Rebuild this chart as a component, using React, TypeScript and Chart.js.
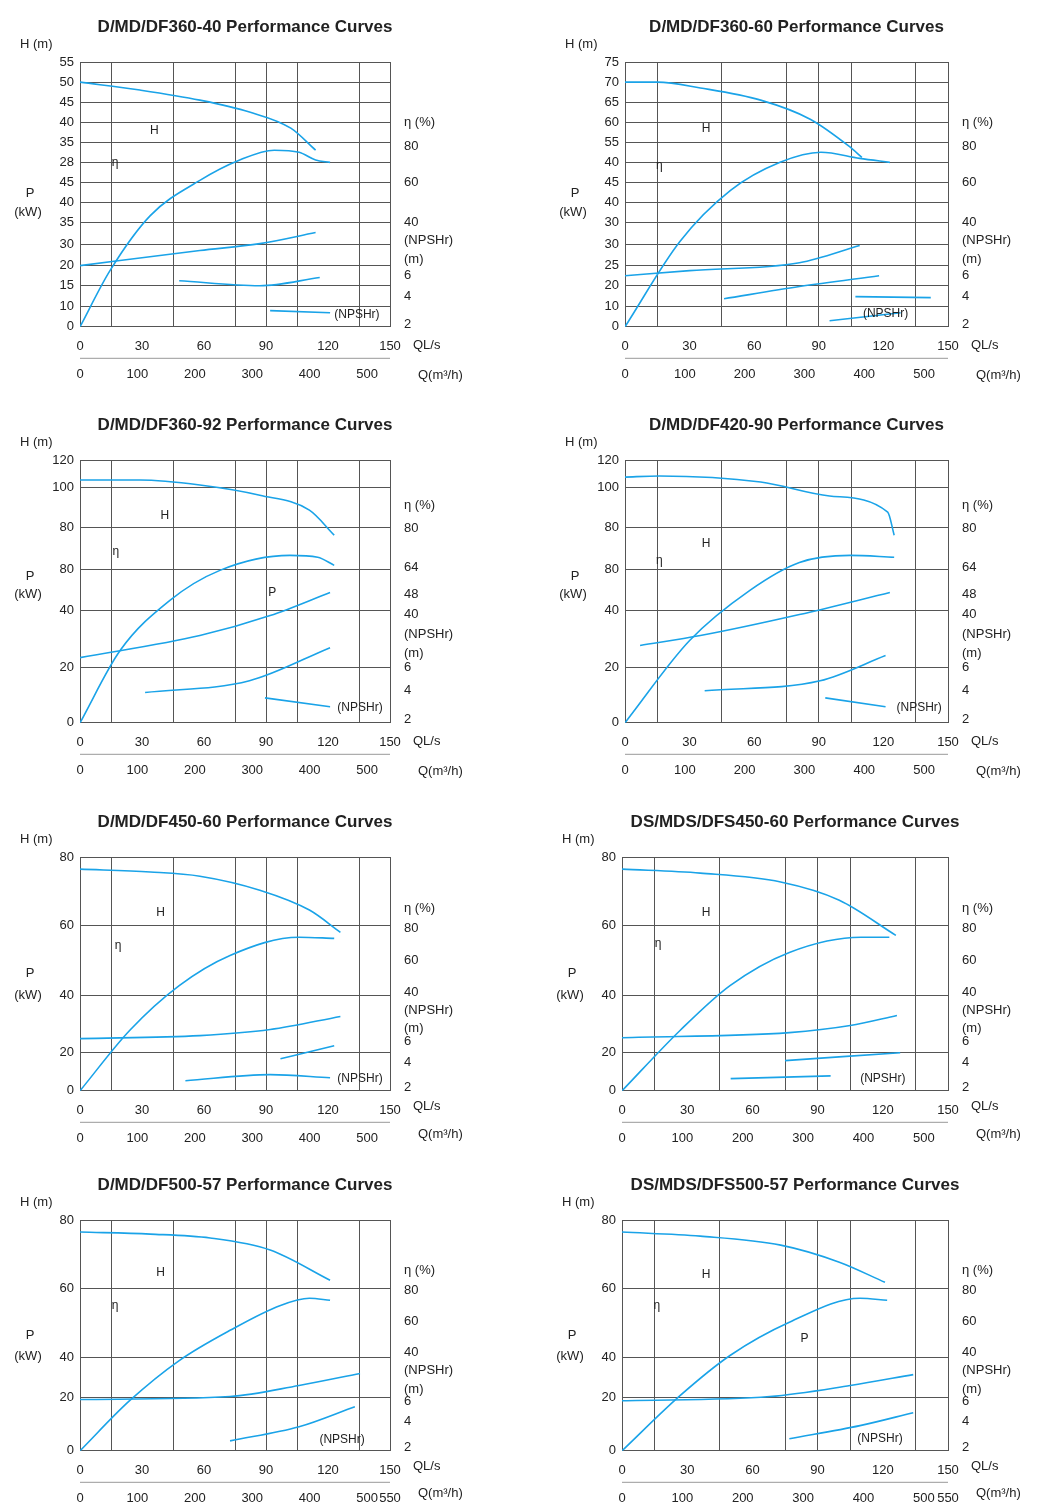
import React, { useEffect, useRef } from "react";
import { Chart, registerables } from "chart.js";
Chart.register(...registerables);

type Pt = [number, number];
type Lbl = [number, number, string];
const FONT = "'Liberation Sans', Arial, sans-serif";
const BLUE = "#1aa3e8";

const titles = [
  "D/MD/DF360-40 Performance Curves", "D/MD/DF360-60 Performance Curves",
  "D/MD/DF360-92 Performance Curves", "D/MD/DF420-90 Performance Curves",
  "D/MD/DF450-60 Performance Curves", "DS/MDS/DFS450-60 Performance Curves",
  "D/MD/DF500-57 Performance Curves", "DS/MDS/DFS500-57 Performance Curves",
];

// left axis ticks (value in grid units 0-100) and their labels
const row1LeftV = [100, 92.4, 84.8, 77.3, 69.7, 62.1, 54.5, 47, 39.4, 31.1, 23.1, 15.5, 7.6, 0];
const p1LeftL = ["55", "50", "45", "40", "35", "28", "45", "40", "35", "30", "20", "15", "10", "0"];
const p2LeftL = ["75", "70", "65", "60", "55", "40", "45", "40", "30", "30", "25", "20", "10", "0"];
const row2LeftV = [100, 89.7, 74.4, 58.4, 42.7, 21, 0];
const row2LeftL = ["120", "100", "80", "80", "40", "20", "0"];
const row3LeftV = [100, 70.8, 40.8, 16.3, 0];
const row4LeftV = [100, 70.4, 40.4, 23, 0];
const row34LeftL = ["80", "60", "40", "20", "0"];

const row1RightV = [77.3, 68.2, 54.5, 39.4, 32.6, 25.4, 19.3, 11.4, 0.8];
const row1RightL = ["η (%)", "80", "60", "40", "(NPSHr)", "(m)", "6", "4", "2"];
const row2RightV = [82.8, 74, 59.2, 48.9, 41.2, 33.6, 26.3, 21, 12.2, 1.1];
const row2RightL = ["η (%)", "80", "64", "48", "40", "(NPSHr)", "(m)", "6", "4", "2"];
const row3RightV = [78.1, 69.5, 55.8, 42.1, 34.3, 26.6, 21, 12, 1.3];
const row4RightV = [78.3, 69.6, 56.1, 42.6, 34.8, 26.5, 21.3, 12.6, 1.3];
const row34RightL = ["η (%)", "80", "60", "40", "(NPSHr)", "(m)", "6", "4", "2"];

const qlTicks = [0, 30, 60, 90, 120, 150];
const m3Ticks = [0, 100, 200, 300, 400, 500];
const m3TicksLast = [0, 100, 200, 300, 400, 500, 540];
const m3LabelsLast = ["0", "100", "200", "300", "400", "500", "550"];
const gridX = [0, 15, 45, 75, 90, 105, 135, 150];

// curves: x in L/s, y in grid units
const p1H: Pt[] = [[0, 92.4], [29, 89.4], [58, 85.6], [82, 81.1], [102, 75], [114, 66.7]];
const p1Eff: Pt[] = [[0, 0], [14.5, 21.2], [34, 42], [58, 55.3], [77, 62.9], [94, 66.7], [106, 65.9], [114, 63], [121, 62.1]];
const p1P: Pt[] = [[0, 23.1], [58, 28.8], [87, 31.4], [114, 35.6]];
const p1N: Pt[] = [[48, 17.4], [87, 15.5], [116, 18.6]];
const p1N2: Pt[] = [[92, 6.1], [121, 5.3]];

const p2H: Pt[] = [[0, 92.4], [15, 92.4], [35, 90.2], [63, 85.6], [86, 78.4], [104, 68.2], [110, 64]];
const p2Eff: Pt[] = [[0, 0], [25.5, 32.2], [49, 51.5], [72, 62.1], [91, 65.9], [109, 63.6], [123, 62.1]];
const p2P: Pt[] = [[0, 19.3], [30, 21.2], [81, 24.2], [109, 30.7]];
const p2N: Pt[] = [[46, 10.6], [81, 15.2], [118, 19.3]];
const p2N2: Pt[] = [[107, 11.4], [142, 11]];
const p2N3: Pt[] = [[95, 2.3], [128, 5.3]];

const p3H: Pt[] = [[0, 92.4], [29, 92.4], [58, 90.5], [87, 86.6], [111, 80.9], [123, 71.4]];
const p3Eff: Pt[] = [[0, 0], [19.4, 27.5], [43.5, 46.6], [67.7, 58], [101.6, 63.7], [115, 63], [123, 59.9]];
const p3P: Pt[] = [[0, 24.8], [58, 33.2], [92, 40.8], [121, 49.6]];
const p3N: Pt[] = [[31.5, 11.5], [82, 16], [121, 28.6]];
const p3N2: Pt[] = [[89.5, 9.5], [121, 6.1]];

const p4H: Pt[] = [[0, 93.5], [16, 93.9], [63, 91.6], [95, 86.3], [122, 80.2], [125, 71.4]];
const p4Eff: Pt[] = [[0, 0], [30, 31.3], [58, 50.4], [81, 61], [104.5, 63.7], [125, 63]];
const p4P: Pt[] = [[7, 29.4], [35, 33.2], [81, 41.2], [123, 49.6]];
const p4N: Pt[] = [[37, 12.2], [90.6, 16], [121, 25.6]];
const p4N2: Pt[] = [[93, 9.5], [121, 6.1]];

const p5H: Pt[] = [[0, 94.8], [34, 93.6], [58, 91.8], [87, 85.8], [111, 77.3], [126, 67.8]];
const p5Eff: Pt[] = [[0, 0], [24, 25.8], [48, 45], [72.6, 57.9], [106, 65.7], [123, 65.2]];
const p5P: Pt[] = [[0, 22.3], [58, 23.6], [92, 26.2], [126, 31.8]];
const p5N: Pt[] = [[97, 13.7], [123, 19.3]];
const p5N2: Pt[] = [[51, 4.3], [92, 6.9], [121, 5.6]];

const p6H: Pt[] = [[0, 94.8], [36, 93.1], [73, 89.3], [100, 81.5], [126, 66.5]];
const p6Eff: Pt[] = [[0, 0], [26.7, 25.8], [49.7, 45], [77, 59.2], [110, 65.7], [123, 65.7]];
const p6P: Pt[] = [[0, 22.7], [77, 24.9], [105, 27.9], [126.5, 32.2]];
const p6N: Pt[] = [[75, 12.9], [128, 16.3]];
const p6N2: Pt[] = [[50, 5.2], [96, 6.4]];

const p7H: Pt[] = [[0, 94.8], [34, 93.9], [63, 92.2], [92, 87], [121, 73.9]];
const p7Eff: Pt[] = [[0, 0], [24, 21.7], [48, 39.1], [72.6, 52.2], [97, 63], [111, 66.1], [121, 65.2]];
const p7P: Pt[] = [[0, 22.2], [72.6, 23.5], [106, 28.3], [135.5, 33.5]];
const p7N: Pt[] = [[72.6, 4.3], [106, 10.4], [133, 19.1]];

const p8H: Pt[] = [[0, 94.8], [36, 93], [73, 89.1], [100, 81.7], [121, 73]];
const p8Eff: Pt[] = [[0, 0], [26.7, 23.9], [49.7, 41.3], [77, 55.7], [109.5, 66.1], [122, 65.2]];
const p8P: Pt[] = [[0, 21.7], [68, 23.5], [105, 28.3], [134, 33]];
const p8N: Pt[] = [[77, 5.2], [109.5, 10.9], [134, 16.5]];

const p1Txt: Lbl[] = [[36, 73.9, "H"], [17, 62, "η"], [134, 4.5, "(NPSHr)"]];
const p2Txt: Lbl[] = [[37.6, 75, "H"], [16, 61, "η"], [121, 5, "(NPSHr)"]];
const p3Txt: Lbl[] = [[41, 79, "H"], [17.4, 65, "η"], [93, 49.6, "P"], [135.5, 5.7, "(NPSHr)"]];
const p4Txt: Lbl[] = [[37.6, 68.3, "H"], [16, 61.8, "η"], [136.6, 5.7, "(NPSHr)"]];
const p5Txt: Lbl[] = [[39, 76, "H"], [18.4, 62, "η"], [135.5, 5.2, "(NPSHr)"]];
const p6Txt: Lbl[] = [[38.7, 76, "H"], [16.6, 63, "η"], [120, 5.2, "(NPSHr)"]];
const p7Txt: Lbl[] = [[39, 77, "H"], [17, 63, "η"], [126.8, 4.8, "(NPSHr)"]];
const p8Txt: Lbl[] = [[38.7, 76.5, "H"], [16, 63, "η"], [84, 48.7, "P"], [118.7, 5.2, "(NPSHr)"]];

const pLabelV = [[50.4, 43.2], [50.4, 43.2], [55.7, 48.9], [55.7, 48.9], [50.2, 40.8], [50.2, 40.8], [50, 40.9], [50, 40.9]];

const rowH = [398, 397, 363, 351];
const plotTop = [62, 62, 62, 62];
const plotBottom = [326, 324, 295, 292];
const axisOff = [[19, 49], [19, 49], [16, 44], [16, 43]];

interface Panel {
  title: string; leftV: number[]; leftL: string[]; rightV: number[]; rightL: string[];
  curves: Pt[][]; txt: Lbl[]; pv: number[]; row: number; col: number;
}

const panels: Panel[] = [
  { title: titles[0], leftV: row1LeftV, leftL: p1LeftL, rightV: row1RightV, rightL: row1RightL, curves: [p1H, p1Eff, p1P, p1N, p1N2], txt: p1Txt, pv: pLabelV[0], row: 0, col: 0 },
  { title: titles[1], leftV: row1LeftV, leftL: p2LeftL, rightV: row1RightV, rightL: row1RightL, curves: [p2H, p2Eff, p2P, p2N, p2N2, p2N3], txt: p2Txt, pv: pLabelV[1], row: 0, col: 1 },
  { title: titles[2], leftV: row2LeftV, leftL: row2LeftL, rightV: row2RightV, rightL: row2RightL, curves: [p3H, p3Eff, p3P, p3N, p3N2], txt: p3Txt, pv: pLabelV[2], row: 1, col: 0 },
  { title: titles[3], leftV: row2LeftV, leftL: row2LeftL, rightV: row2RightV, rightL: row2RightL, curves: [p4H, p4Eff, p4P, p4N, p4N2], txt: p4Txt, pv: pLabelV[3], row: 1, col: 1 },
  { title: titles[4], leftV: row3LeftV, leftL: row34LeftL, rightV: row3RightV, rightL: row34RightL, curves: [p5H, p5Eff, p5P, p5N, p5N2], txt: p5Txt, pv: pLabelV[4], row: 2, col: 0 },
  { title: titles[5], leftV: row3LeftV, leftL: row34LeftL, rightV: row3RightV, rightL: row34RightL, curves: [p6H, p6Eff, p6P, p6N, p6N2], txt: p6Txt, pv: pLabelV[5], row: 2, col: 1 },
  { title: titles[6], leftV: row4LeftV, leftL: row34LeftL, rightV: row4RightV, rightL: row34RightL, curves: [p7H, p7Eff, p7P, p7N], txt: p7Txt, pv: pLabelV[6], row: 3, col: 0 },
  { title: titles[7], leftV: row4LeftV, leftL: row34LeftL, rightV: row4RightV, rightL: row34RightL, curves: [p8H, p8Eff, p8P, p8N], txt: p8Txt, pv: pLabelV[7], row: 3, col: 1 },
];

function PanelChart({ p }: { p: Panel }) {
  const ref = useRef<HTMLCanvasElement>(null);
  useEffect(() => {
    const H = rowH[p.row];
    const last = p.row === 3;
    const m3v = last ? m3TicksLast : m3Ticks;
    const padLeft = p.col === 0 ? 53 : (p.row < 2 ? 77 : 74);
    const padRight = p.col === 0 ? 131 : 94;
    const extras = {
      id: "extras",
      afterDraw(chart: any) {
        const ctx = chart.ctx; const a = chart.chartArea;
        const ys = chart.scales.y; const xs = chart.scales.x;
        ctx.save();
        ctx.strokeStyle = "#999"; ctx.lineWidth = 1;
        ctx.beginPath(); ctx.moveTo(a.left, a.bottom + 31.5); ctx.lineTo(a.right, a.bottom + 31.5); ctx.stroke();
        ctx.fillStyle = "#222";
        ctx.font = `bold 17px ${FONT}`; ctx.textAlign = "center"; ctx.textBaseline = "middle";
        ctx.fillText(p.title, (a.left + a.right) / 2 + 10, 27);
        ctx.font = `13px ${FONT}`;
        ctx.textAlign = "left";
        p.rightV.forEach((v, i) => ctx.fillText(p.rightL[i], a.right + 14, ys.getPixelForValue(v)));
        ctx.fillText("H (m)", a.left - 60, a.top - 18);
        ctx.textAlign = "center";
        ctx.fillText("P", a.left - 50, ys.getPixelForValue(p.pv[0]));
        ctx.fillText("(kW)", a.left - 52, ys.getPixelForValue(p.pv[1]));
        ctx.textAlign = "left";
        ctx.fillText("QL/s", a.right + 23, a.bottom + axisOff[p.row][0]);
        ctx.fillText("Q(m³/h)", a.right + 28, a.bottom + axisOff[p.row][1]);
        ctx.font = `12px ${FONT}`; ctx.textAlign = "center";
        p.txt.forEach(([x, y, t]) => ctx.fillText(t, xs.getPixelForValue(x), ys.getPixelForValue(y)));
        ctx.restore();
      },
    };
    const chart = new Chart(ref.current!, {
      type: "line",
      data: {
        datasets: p.curves.map((c) => ({
          data: c.map(([x, y]) => ({ x, y })),
          borderColor: BLUE, borderWidth: 1.6, pointRadius: 0, fill: false,
          cubicInterpolationMode: "monotone" as const,
        })),
      },
      options: {
        animation: false, responsive: false,
        layout: { padding: { top: plotTop[p.row], left: padLeft, right: padRight, bottom: H - plotBottom[p.row] - 56 } },
        plugins: { legend: { display: false }, tooltip: { enabled: false } },
        scales: {
          x: {
            type: "linear", min: 0, max: 150,
            afterBuildTicks: (s: any) => { s.ticks = [0, 15, 30, 45, 60, 75, 90, 105, 120, 135, 150].map((value) => ({ value })); },
            ticks: { autoSkip: false, maxRotation: 0, padding: 12, color: "#222", font: { family: FONT, size: 13 },
              callback: (v: any) => (qlTicks.includes(v) ? String(v) : "") },
            grid: { color: (c: any) => (gridX.includes(c.tick?.value) ? "#555" : "rgba(0,0,0,0)"), drawTicks: false },
            border: { display: false },
          },
          x2: {
            type: "linear", position: "bottom", min: 0, max: 540,
            afterBuildTicks: (s: any) => { s.ticks = m3v.map((value) => ({ value })); },
            ticks: { autoSkip: false, maxRotation: 0, padding: 0, color: "#222", font: { family: FONT, size: 13 },
              callback: (v: any) => (last ? m3LabelsLast[m3TicksLast.indexOf(v)] : String(v)) },
            grid: { display: false, drawTicks: false },
            border: { display: false },
          },
          y: {
            type: "linear", min: 0, max: 100,
            afterBuildTicks: (s: any) => { s.ticks = p.leftV.map((value) => ({ value })); },
            afterFit: (s: any) => { s.width = 27; },
            ticks: { autoSkip: false, padding: 6, color: "#222", font: { family: FONT, size: 13 },
              callback: (v: any) => p.leftL[p.leftV.indexOf(v)] ?? "" },
            grid: { color: "#555", drawTicks: false },
            border: { display: false },
          },
        },
      } as any,
      plugins: [extras],
    });
    return () => chart.destroy();
  }, [p]);
  return <canvas ref={ref} width={521} height={rowH[p.row]} style={{ display: "block", width: 521, height: rowH[p.row] }} />;
}

export default function App() {
  useEffect(() => { document.body.style.margin = "0"; document.body.style.background = "#fff"; }, []);
  return (
    <div style={{ width: 1042, display: "grid", gridTemplateColumns: "521px 521px", background: "#fff" }}>
      {panels.map((p, i) => <PanelChart key={i} p={p} />)}
    </div>
  );
}
